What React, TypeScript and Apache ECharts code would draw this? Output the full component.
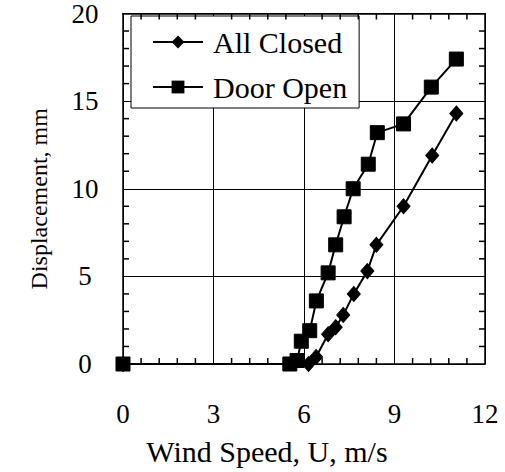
import React, { useEffect, useRef } from "react";
import * as echarts from "echarts";

const seriesNames = ["All Closed", "Door Open"];
const allClosed: [number, number][] = [
  [0, 0], [6.15, 0], [6.4, 0.4], [6.8, 1.7], [7.05, 2.1], [7.3, 2.8],
  [7.65, 4.0], [8.1, 5.3], [8.4, 6.8], [9.3, 9.0], [10.25, 11.9], [11.05, 14.3],
];
const doorOpen: [number, number][] = [
  [0, 0], [5.53, 0], [5.77, 0.2], [5.91, 1.3], [6.19, 1.9], [6.41, 3.6],
  [6.8, 5.2], [7.05, 6.8], [7.33, 8.4], [7.63, 10.0], [8.13, 11.4],
  [8.43, 13.2], [9.3, 13.7], [10.22, 15.8], [11.05, 17.4],
];
const xRange = { min: 0, max: 12 };
const yRange = { min: 0, max: 20 };
const xMajor = 3;
const yMajor = 5;
const xMinorTicks = [0.6, 1.2, 1.8, 2.4, 3.6, 4.2, 4.8, 5.4, 6.6, 7.2, 7.8, 8.4, 9.6, 10.2, 10.8, 11.4];
const yMinorTicks = [1, 2, 3, 4, 6, 7, 8, 9, 11, 12, 13, 14, 16, 17, 18, 19];
const xTitle = "Wind Speed, U, m/s";
const yTitle = "Displacement, mm";

const FONT = "'Liberation Serif', 'Times New Roman', serif";
const INK = "#000";
const TICK_LEN = 6;
const TICK_W = 1.5;

export default function App() {
  const ref = useRef<HTMLDivElement>(null);
  useEffect(() => {
    if (!ref.current) return;
    const chart = echarts.init(ref.current, null, { renderer: "svg" });
    const axisLine = () => ({ show: true, onZero: false, lineStyle: { color: INK, width: 1.5 } });
    const tickSeries = (data: number[][], size: number[], offset: number[]) => ({
      type: "scatter",
      silent: true,
      clip: false,
      xAxisIndex: 0,
      yAxisIndex: 0,
      data,
      symbol: "rect",
      symbolSize: size,
      symbolOffset: offset,
      itemStyle: { color: INK, opacity: 1 },
      emphasis: { disabled: true },
      z: 5,
    });
    chart.setOption({
      animation: false,
      grid: { left: 123, right: 20, top: 13, bottom: 108 },
      legend: {
        orient: "vertical",
        left: 131,
        top: 16,
        padding: [11, 12, 6, 21],
        backgroundColor: "#fff",
        borderColor: INK,
        borderWidth: 1,
        itemWidth: 50,
        itemHeight: 16,
        itemGap: 15,
        data: seriesNames,
        textStyle: { fontFamily: FONT, fontSize: 30, color: INK, padding: [0, 0, 0, 5] },
      },
      xAxis: [
        {
          type: "value", ...xRange, interval: xMajor, position: "bottom",
          name: xTitle, nameLocation: "middle", nameGap: 72,
          nameTextStyle: { fontFamily: FONT, fontSize: 30, color: INK, padding: [0, 74, 0, 0] },
          axisLine: axisLine(),
          axisTick: { show: false },
          axisLabel: { fontFamily: FONT, fontSize: 27, color: INK, margin: 36 },
          splitLine: { show: true, lineStyle: { color: INK, width: 1 } },
        },
        {
          type: "value", ...xRange, interval: xMajor, position: "top",
          axisLine: axisLine(),
          axisTick: { show: false },
          axisLabel: { show: false },
          splitLine: { show: false },
        },
      ],
      yAxis: [
        {
          type: "value", ...yRange, interval: yMajor, position: "left",
          name: yTitle, nameLocation: "middle", nameGap: 72, nameRotate: 90,
          nameTextStyle: { fontFamily: FONT, fontSize: 24, color: INK, padding: [0, 20, 0, 0] },
          axisLine: axisLine(),
          axisTick: { show: false },
          axisLabel: { fontFamily: FONT, fontSize: 27, color: INK, margin: 38, align: "center", padding: [12, 0, 0, 0] },
          splitLine: { show: true, lineStyle: { color: INK, width: 1 } },
        },
        {
          type: "value", ...yRange, interval: yMajor, position: "right",
          axisLine: axisLine(),
          axisTick: { show: false },
          axisLabel: { show: false },
          splitLine: { show: false },
        },
      ],
      series: [
        tickSeries(xMinorTicks.map((v) => [v, yRange.min]), [TICK_W, TICK_LEN], [0, -TICK_LEN / 2]),
        tickSeries(xMinorTicks.map((v) => [v, yRange.max]), [TICK_W, TICK_LEN], [0, TICK_LEN / 2]),
        tickSeries(yMinorTicks.map((v) => [xRange.min, v]), [TICK_LEN, TICK_W], [TICK_LEN / 2, 0]),
        tickSeries(yMinorTicks.map((v) => [xRange.max, v]), [TICK_LEN, TICK_W], [-TICK_LEN / 2, 0]),
        {
          name: seriesNames[0], type: "line", data: allClosed,
          xAxisIndex: 0, yAxisIndex: 0,
          symbol: "diamond", symbolSize: [13, 15],
          lineStyle: { color: "#000", width: 2 },
          itemStyle: { color: "#000", borderColor: "#000" },
          z: 3,
        },
        {
          name: seriesNames[1], type: "line", data: doorOpen,
          xAxisIndex: 0, yAxisIndex: 0,
          symbol: "rect", symbolSize: 14,
          lineStyle: { color: "#000", width: 2 },
          itemStyle: { color: "#000", borderColor: "#000" },
          z: 4,
        },
      ],
    });
    return () => chart.dispose();
  }, []);
  return (
    <div
      ref={ref}
      style={{ position: "fixed", left: 0, top: 0, width: 505, height: 472, background: "#fff" }}
    />
  );
}
